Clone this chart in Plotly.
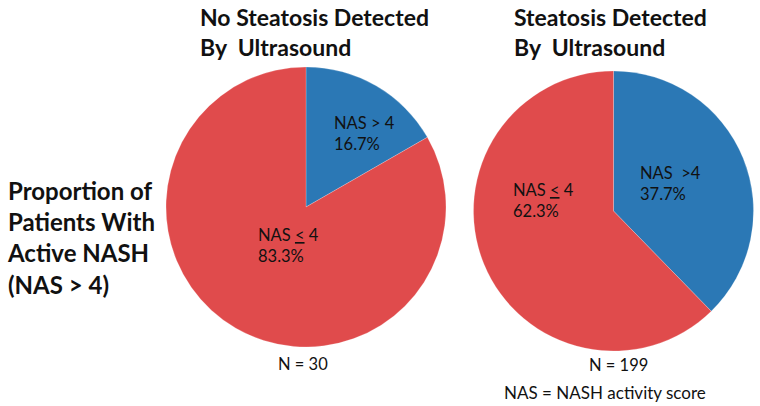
import plotly.graph_objects as go

categories = ["NAS > 4", "NAS ≤ 4"]
no_steatosis = [16.7, 83.3]
steatosis = [37.7, 62.3]
colors = ["#2B78B5", "#E04B4C"]

fig = go.Figure()
fig.add_trace(go.Pie(labels=categories, values=no_steatosis, sort=False, direction="clockwise",
                     rotation=0, textinfo="none", hoverinfo="label+percent",
                     marker=dict(colors=colors, line=dict(color="rgba(255,255,255,0.35)", width=0.6)),
                     domain=dict(x=[165/760, 447/760], y=[1-347/406, 1-67/406]), showlegend=False))
fig.add_trace(go.Pie(labels=categories, values=steatosis, sort=False, direction="clockwise",
                     rotation=0, textinfo="none", hoverinfo="label+percent",
                     marker=dict(colors=colors, line=dict(color="rgba(255,255,255,0.35)", width=0.6)),
                     domain=dict(x=[472/760, 755/760], y=[1-351/406, 1-71/406]), showlegend=False))

FONT = "Lato, 'Open Sans', sans-serif"
def ann(text, x, y, size, bold=False, xanchor="left", align="left"):
    t = f"<b>{text}</b>" if bold else text
    fig.add_annotation(text=t, x=x/760, y=1-y/406, xref="paper", yref="paper",
                       xanchor=xanchor, yanchor="middle", showarrow=False, align=align,
                       font=dict(family=FONT, size=size, color="#111111"))

# titles
ann("No Steatosis Detected<br>By  Ultrasound", 198, 32, 23, bold=True)
ann("Steatosis Detected<br>By  Ultrasound", 512, 32, 23, bold=True)
# left side label
ann("Proportion of<br>Patients With<br>Active NASH<br>(NAS &gt; 4)", 5, 238, 24, bold=True)
# slice labels
ann(f"NAS &gt; 4<br>{no_steatosis[0]}%", 332, 133, 16.5)
ann(f"NAS <u>&lt;</u> 4<br>{no_steatosis[1]}%", 256, 245, 16.5)
ann(f"NAS  &gt;4<br>{steatosis[0]}%", 638, 183, 16.5)
ann(f"NAS <u>&lt;</u> 4<br>{steatosis[1]}%", 511, 200, 16.5)
# footers
ann("N = 30", 303, 364, 16.5, xanchor="center")
ann("N = 199", 618, 365, 16.5, xanchor="center")
ann("NAS = NASH activity score", 605, 392, 17, xanchor="center")

fig.update_layout(width=760, height=406, margin=dict(l=0, r=0, t=0, b=0),
                  paper_bgcolor="white", plot_bgcolor="white")
fig.write_html("out.html", config={"displayModeBar": False},
               post_script="document.body.style.margin='0px';document.body.style.overflow='hidden';")
